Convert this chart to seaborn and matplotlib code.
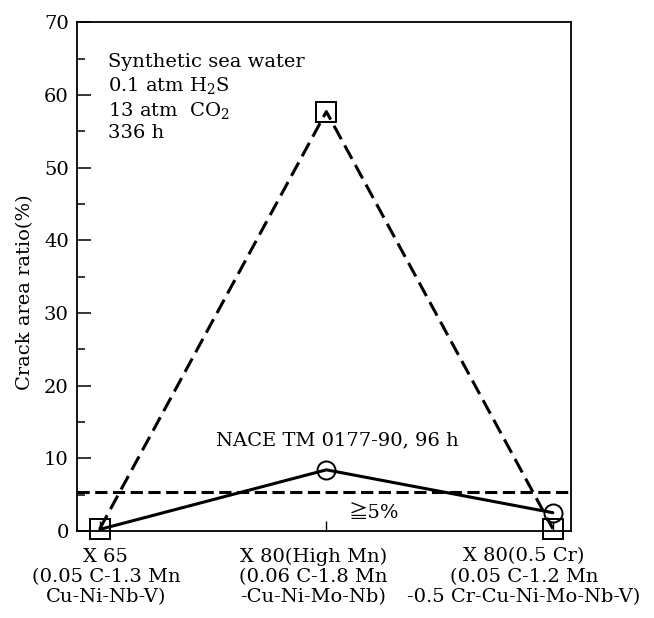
import matplotlib
matplotlib.use("Agg")
import matplotlib.pyplot as plt
from matplotlib.transforms import ScaledTranslation
import seaborn as sns
import numpy as np
import pandas as pd

categories = ["X 65\n(0.05 C-1.3 Mn\nCu-Ni-Nb-V)",
              "X 80(High Mn)\n(0.06 C-1.8 Mn\n-Cu-Ni-Mo-Nb)",
              "X 80(0.5 Cr)\n(0.05 C-1.2 Mn\n-0.5 Cr-Cu-Ni-Mo-Nb-V)"]
sea_water = [0.3, 57.7, 0.3]
nace = [0.2, 8.4, 2.5]
threshold = 5.35

sns.set_theme(style="ticks")
plt.rcParams['font.family'] = ['DejaVu Serif', 'Noto Sans CJK JP']
plt.rcParams['mathtext.fontset'] = 'dejavuserif'
for k in ['text.color', 'axes.labelcolor', 'xtick.color', 'ytick.color', 'axes.edgecolor']:
    plt.rcParams[k] = 'black'

FS = 14
fig = plt.figure(figsize=(6.54, 6.18), dpi=100)
ax = fig.add_axes([0.118, 0.141, 0.755, 0.823])

xpos = np.arange(len(categories))
df = pd.DataFrame({"x": xpos, "sea": sea_water, "nace": nace})

sns.lineplot(data=df, x="x", y="sea", ax=ax, color="black", lw=2.2,
             marker="s", markersize=15, markerfacecolor="none",
             markeredgecolor="black", markeredgewidth=1.4, zorder=3, clip_on=False)
ax.lines[-1].set_dashes((5, 2.3))
sns.lineplot(data=df, x="x", y="nace", ax=ax, color="black", lw=2.2,
             marker="o", markersize=13, markerfacecolor="none", markevery=[1, 2],
             markeredgecolor="black", markeredgewidth=1.4, zorder=3, clip_on=False)
ax.axhline(threshold, color="black", lw=2.2, dashes=(4, 1.8), zorder=2)

ax.set_xlim(-0.1, 2.08)
ax.set_ylim(0, 70)
ax.set_yticks(range(0, 71, 10))
ax.set_yticks(range(5, 70, 10), minor=True)
ax.set_xticks(xpos)
ax.set_xticklabels(categories, fontsize=FS, linespacing=1.15)
ax.tick_params(axis="y", which="major", direction="in", length=10, width=1.1,
               labelsize=FS, pad=6)
ax.tick_params(axis="y", which="minor", direction="in", length=6, width=1.1)
ax.tick_params(axis="x", direction="in", length=7, width=1.0, pad=12)
for s in ax.spines.values():
    s.set_linewidth(1.3)
    s.set_color("black")

offsets_px = [6, -13, -29]
for lab, dx in zip(ax.get_xticklabels(), offsets_px):
    lab.set_transform(lab.get_transform() + ScaledTranslation(dx / 100, 0, fig.dpi_scale_trans))

ax.set_xlabel("")
ax.set_ylabel("Crack area ratio(%)", fontsize=FS)
ax.yaxis.set_label_coords(-0.088, 0.47)

ax.text(0.035, 65.8, "Synthetic sea water\n0.1 atm H$_2$S\n13 atm  CO$_2$\n336 h",
        fontsize=FS, va="top", ha="left", linespacing=1.25)
ax.text(1.05, 12.5, "NACE TM 0177-90, 96 h", fontsize=FS, ha="center", va="center")
ax.text(1.21, 2.5, "≧5%", fontsize=FS, ha="center", va="center")

fig.savefig("out.png", dpi=100, facecolor="white")
